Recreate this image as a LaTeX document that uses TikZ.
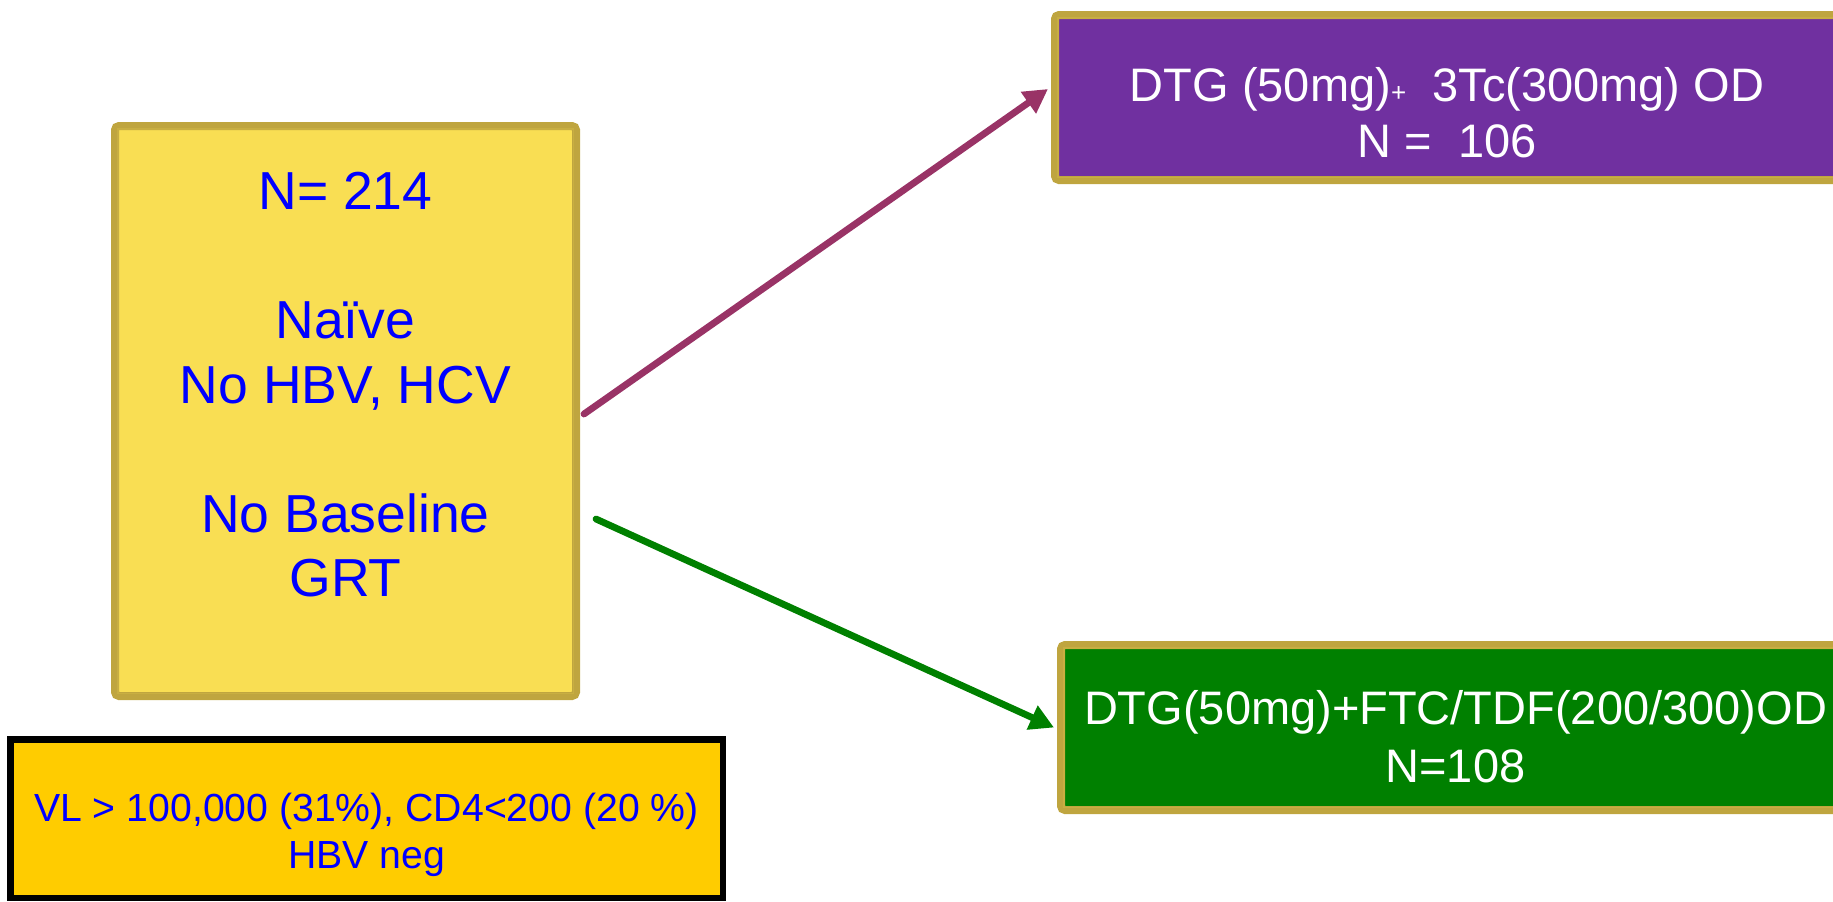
\documentclass[tikz,border=0pt]{standalone}
\usepackage{fontspec}
\setmainfont{Liberation Sans}
\usetikzlibrary{arrows.meta}
\definecolor{gold}{HTML}{BFA53F}
\definecolor{goldthin}{HTML}{C8AE42}
\definecolor{sand}{HTML}{F9DE53}
\definecolor{plum}{HTML}{7030A0}
\definecolor{leaf}{HTML}{008000}
\definecolor{amber}{HTML}{FFCC00}
\definecolor{wine}{HTML}{993366}
\definecolor{ink}{HTML}{0000FF}
\begin{document}
\begin{tikzpicture}[x=0.5pt,y=-0.5pt,
  panel/.style={rectangle, rounded corners=2pt, line width=4pt, draw=gold, inner sep=0pt},
  trim/.style={draw=goldthin, line width=0.75pt},
  txt/.style={inner sep=0pt, anchor=north, align=center},
  link/.style={line width=3.4pt, line cap=round, -{Triangle[length=12pt,width=12.5pt]}}
]
\useasboundingbox (0,0) rectangle (1833,901);

% cohort box
\node[panel, fill=sand, minimum width=230.5pt, minimum height=285pt] (crit) at (345.5,411) {};
\draw[trim] ([shift={(6.75,6.75)}]crit.north west) rectangle ([shift={(-6.75,-6.75)}]crit.south east);
\node[txt, text=ink, font=\fontsize{26.75}{32.25}\selectfont] (critT) at (345.5,172)
  {N= 214\\[32.25pt]Naïve\\No HBV, HCV\\[32.25pt]No Baseline\\GRT};

% arm A
\node[panel, fill=plum, minimum width=392.5pt, minimum height=82.5pt] (armA) at (1447.5,97.5) {};
\draw[trim] ([shift={(6.75,6.75)}]armA.north west) rectangle ([shift={(-6.75,-6.75)}]armA.south east);
\node[txt, text=white, font=\fontsize{23.5}{28}\selectfont] (armAT) at (1447,67)
  {DTG (50mg){\fontsize{13}{13}\selectfont+}\ \ 3Tc(300mg) OD\\N =\ \ 106};

% arm B
\node[panel, fill=leaf, minimum width=394.5pt, minimum height=82.5pt] (armB) at (1455.5,727.5) {};
\draw[trim] ([shift={(6.75,6.75)}]armB.north west) rectangle ([shift={(-6.75,-6.75)}]armB.south east);
\node[txt, text=white, font=\fontsize{23.5}{29.25}\selectfont] (armBT) at (1455.5,690)
  {DTG(50mg)+FTC/TDF(200/300)OD\\N=108};

% baseline characteristics
\node[rectangle, draw=black, line width=3.25pt, fill=amber, inner sep=0pt,
      minimum width=356.25pt, minimum height=79.25pt] (base) at (366.5,818.5) {};
\node[txt, text=ink, font=\fontsize{19.6}{23.25}\selectfont] (baseT) at (366.5,793)
  {VL > 100,000 (31\%), CD4<200 (20 \%)\\HBV neg};

% randomisation arrows
\draw[link, wine] ([shift={(4,3)}]crit.east) -- ([shift={(-3,-8.5)}]armA.west);
\draw[link, leaf] ([shift={(16,108)}]crit.east) -- ([shift={(-3,0)}]armB.west);
\end{tikzpicture}
\end{document}
